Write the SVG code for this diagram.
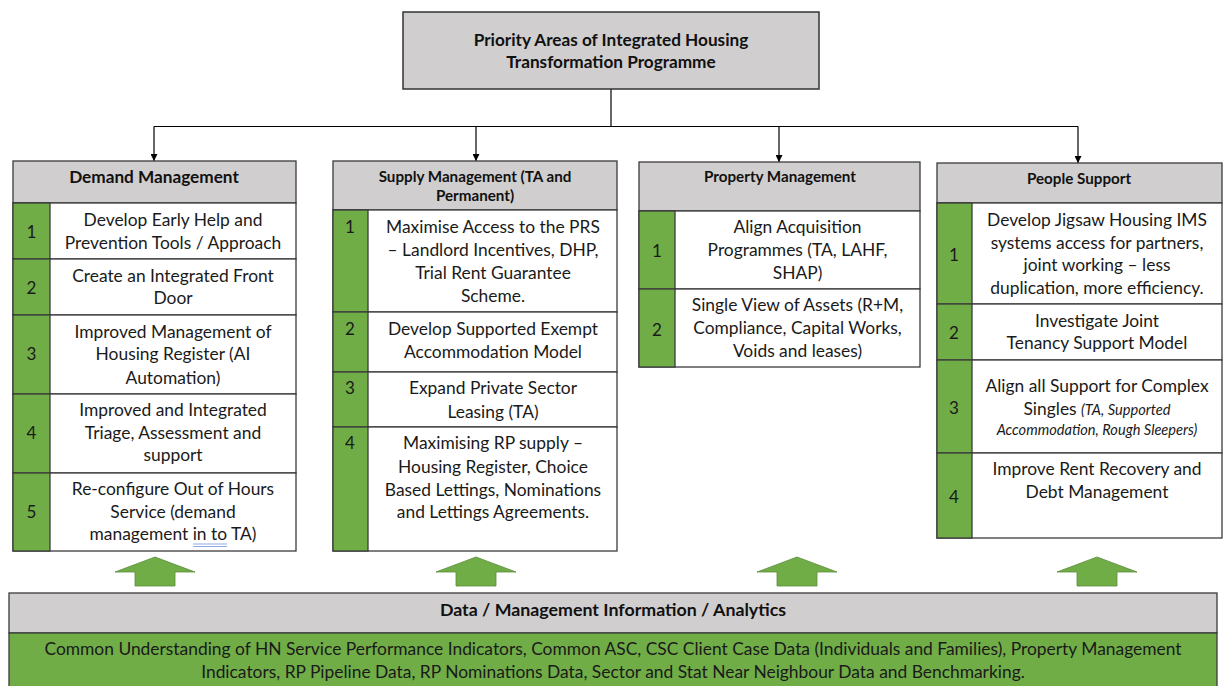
<svg xmlns="http://www.w3.org/2000/svg" width="1226" height="686" viewBox="0 0 1226 686">
  <defs>
    <style>
      .hdr { fill: #d0cece; stroke: #3b3b3b; stroke-width: 1.3; }
      .row { fill: #ffffff; stroke: #3b3b3b; stroke-width: 1.3; }
      .num { fill: #70ad47; stroke: #3b3b3b; stroke-width: 1.3; }
      .t { font-family: Lato, "Open Sans", sans-serif; font-size: 17.4px; fill: #1a1a1a; text-anchor: middle; }
      .n { font-family: Lato, "Open Sans", sans-serif; font-size: 17px; fill: #1a1a1a; text-anchor: middle; }
      .it { font-style: italic; font-size: 14.6px; }
      .h1 { font-family: Lato, "Open Sans", sans-serif; font-weight: bold; font-size: 17.2px; fill: #111; text-anchor: middle; }
      .h2 { font-family: Lato, "Open Sans", sans-serif; font-weight: bold; font-size: 15.2px; fill: #111; text-anchor: middle; }
      .conn { fill: none; stroke: #000; stroke-width: 1.2; }
      .up { fill: #70ad47; stroke: #5b8c3a; stroke-width: 0.8; }
    </style>
    <marker id="ah" viewBox="0 0 10 10" refX="10" refY="5" markerWidth="7" markerHeight="7" orient="auto" markerUnits="userSpaceOnUse">
      <path d="M0 0 L10 5 L0 10 Z" fill="#000"/>
    </marker>
  </defs>

  <rect width="1226" height="686" fill="#ffffff"/>

  <!-- connectors from the programme box to the four areas -->
  <g id="connectors">
    <path class="conn" d="M611 89 V126.5"/>
    <path class="conn" d="M154 126.5 H1078"/>
    <path class="conn" d="M154 126.5 V161" marker-end="url(#ah)"/>
    <path class="conn" d="M476 126.5 V161" marker-end="url(#ah)"/>
    <path class="conn" d="M779 126.5 V162" marker-end="url(#ah)"/>
    <path class="conn" d="M1078 126.5 V163" marker-end="url(#ah)"/>
  </g>

  <!-- programme title -->
  <g id="programme">
    <rect x="403" y="12" width="416" height="77" fill="#d0cece" stroke="#333" stroke-width="1.5"/>
    <text class="h1" x="611" y="46">Priority Areas of Integrated Housing</text>
    <text class="h1" x="611" y="68">Transformation Programme</text>
  </g>

  <!-- Demand Management -->
  <g id="demand">
    <rect class="hdr" x="13" y="161" width="283" height="42"/>
    <text class="h1" x="154" y="183">Demand Management</text>
    <rect class="row" x="13" y="203" width="283" height="56"/>
    <rect class="row" x="13" y="259" width="283" height="56"/>
    <rect class="row" x="13" y="315" width="283" height="79"/>
    <rect class="row" x="13" y="394" width="283" height="79"/>
    <rect class="row" x="13" y="473" width="283" height="78"/>
    <rect class="num" x="13" y="203" width="37" height="56"/>
    <rect class="num" x="13" y="259" width="37" height="56"/>
    <rect class="num" x="13" y="315" width="37" height="79"/>
    <rect class="num" x="13" y="394" width="37" height="79"/>
    <rect class="num" x="13" y="473" width="37" height="78"/>
    <text class="n" x="31.5" y="238">1</text>
    <text class="n" x="31.5" y="294">2</text>
    <text class="n" x="31.5" y="360">3</text>
    <text class="n" x="31.5" y="439">4</text>
    <text class="n" x="31.5" y="518">5</text>
    <text class="t" x="173" y="226">Develop Early Help and</text>
    <text class="t" x="173" y="249">Prevention Tools / Approach</text>
    <text class="t" x="173" y="282">Create an Integrated Front</text>
    <text class="t" x="173" y="304">Door</text>
    <text class="t" x="173" y="338">Improved Management of</text>
    <text class="t" x="173" y="360">Housing Register (AI</text>
    <text class="t" x="173" y="384">Automation)</text>
    <text class="t" x="173" y="416">Improved and Integrated</text>
    <text class="t" x="173" y="439">Triage, Assessment and</text>
    <text class="t" x="173" y="461">support</text>
    <text class="t" x="173" y="495">Re-configure Out of Hours</text>
    <text class="t" x="173" y="518">Service (demand</text>
    <text class="t" x="173" y="540">management in to TA)</text>
    <path d="M193 544 H227 M193 546.5 H227" stroke="#8ea8e6" stroke-width="1"/>
  </g>

  <!-- Supply Management -->
  <g id="supply">
    <rect class="hdr" x="333" y="161" width="284" height="49"/>
    <text class="h2" x="475" y="182">Supply Management (TA and</text>
    <text class="h2" x="475" y="201">Permanent)</text>
    <rect class="row" x="333" y="210" width="284" height="102"/>
    <rect class="row" x="333" y="312" width="284" height="60"/>
    <rect class="row" x="333" y="372" width="284" height="55"/>
    <rect class="row" x="333" y="427" width="284" height="124"/>
    <rect class="num" x="333" y="210" width="35" height="102"/>
    <rect class="num" x="333" y="312" width="35" height="60"/>
    <rect class="num" x="333" y="372" width="35" height="55"/>
    <rect class="num" x="333" y="427" width="35" height="124"/>
    <text class="n" x="350" y="233">1</text>
    <text class="n" x="350" y="335">2</text>
    <text class="n" x="350" y="394">3</text>
    <text class="n" x="350" y="449">4</text>
    <text class="t" x="493" y="233">Maximise Access to the PRS</text>
    <text class="t" x="493" y="256">– Landlord Incentives, DHP,</text>
    <text class="t" x="493" y="279">Trial Rent Guarantee</text>
    <text class="t" x="493" y="302">Scheme.</text>
    <text class="t" x="493" y="335">Develop Supported Exempt</text>
    <text class="t" x="493" y="358">Accommodation Model</text>
    <text class="t" x="493" y="394">Expand Private Sector</text>
    <text class="t" x="493" y="418">Leasing (TA)</text>
    <text class="t" x="493" y="449">Maximising RP supply –</text>
    <text class="t" x="493" y="473">Housing Register, Choice</text>
    <text class="t" x="493" y="496">Based Lettings, Nominations</text>
    <text class="t" x="493" y="518">and Lettings Agreements.</text>
  </g>

  <!-- Property Management -->
  <g id="property">
    <rect class="hdr" x="639" y="162" width="281" height="49"/>
    <text class="h2" x="780" y="182">Property Management</text>
    <rect class="row" x="639" y="211" width="281" height="78"/>
    <rect class="row" x="639" y="289" width="281" height="78"/>
    <rect class="num" x="639" y="211" width="36" height="78"/>
    <rect class="num" x="639" y="289" width="36" height="78"/>
    <text class="n" x="657" y="257">1</text>
    <text class="n" x="657" y="336">2</text>
    <text class="t" x="797.5" y="233">Align Acquisition</text>
    <text class="t" x="797.5" y="256">Programmes (TA, LAHF,</text>
    <text class="t" x="797.5" y="279">SHAP)</text>
    <text class="t" x="797.5" y="311">Single View of Assets (R+M,</text>
    <text class="t" x="797.5" y="334">Compliance, Capital Works,</text>
    <text class="t" x="797.5" y="357">Voids and leases)</text>
  </g>

  <!-- People Support -->
  <g id="people">
    <rect class="hdr" x="937" y="163" width="285" height="40"/>
    <text class="h2" x="1079" y="184">People Support</text>
    <rect class="row" x="937" y="203" width="285" height="101"/>
    <rect class="row" x="937" y="304" width="285" height="56"/>
    <rect class="row" x="937" y="360" width="285" height="93"/>
    <rect class="row" x="937" y="453" width="285" height="85"/>
    <rect class="num" x="937" y="203" width="35" height="101"/>
    <rect class="num" x="937" y="304" width="35" height="56"/>
    <rect class="num" x="937" y="360" width="35" height="93"/>
    <rect class="num" x="937" y="453" width="35" height="85"/>
    <text class="n" x="954" y="261">1</text>
    <text class="n" x="954" y="339">2</text>
    <text class="n" x="954" y="414">3</text>
    <text class="n" x="954" y="503">4</text>
    <text class="t" x="1097" y="226">Develop Jigsaw Housing IMS</text>
    <text class="t" x="1097" y="249">systems access for partners,</text>
    <text class="t" x="1097" y="271">joint working – less</text>
    <text class="t" x="1097" y="294">duplication, more efficiency.</text>
    <text class="t" x="1097" y="327">Investigate Joint</text>
    <text class="t" x="1097" y="349">Tenancy Support Model</text>
    <text class="t" x="1097" y="392">Align all Support for Complex</text>
    <text class="t" x="1097" y="415">Singles <tspan class="it">(TA, Supported</tspan></text>
    <text class="t it" x="1097" y="435">Accommodation, Rough Sleepers)</text>
    <text class="t" x="1097" y="475">Improve Rent Recovery and</text>
    <text class="t" x="1097" y="498">Debt Management</text>
  </g>

  <!-- data feeding up into each area -->
  <g id="feeds">
    <polygon class="up" points="155,557 195,572 175,572 175,586 135,586 135,572 115,572"/>
    <polygon class="up" points="476,557 516,572 496,572 496,586 456,586 456,572 436,572"/>
    <polygon class="up" points="797,557 837,572 817,572 817,586 777,586 777,572 757,572"/>
    <polygon class="up" points="1097,557 1137,572 1117,572 1117,586 1077,586 1077,572 1057,572"/>
  </g>

  <!-- Data / MI / Analytics foundation -->
  <g id="data">
    <rect x="9" y="593" width="1208" height="40" fill="#d0cece" stroke="#3b3b3b" stroke-width="1.3"/>
    <rect x="9" y="633" width="1208" height="60" fill="#70ad47" stroke="#3b3b3b" stroke-width="1.3"/>
    <text class="h1" x="613" y="616" style="font-size:17.8px">Data / Management Information / Analytics</text>
    <text class="t" x="613" y="655">Common Understanding of HN Service Performance Indicators, Common ASC, CSC Client Case Data (Individuals and Families), Property Management</text>
    <text class="t" x="613" y="678">Indicators, RP Pipeline Data, RP Nominations Data, Sector and Stat Near Neighbour Data and Benchmarking.</text>
  </g>
</svg>
